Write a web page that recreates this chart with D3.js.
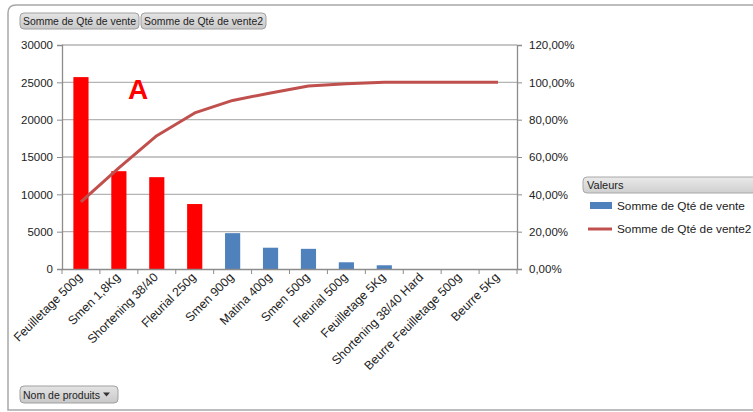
<!DOCTYPE html>
<html><head><meta charset="utf-8">
<script src="https://cdn.jsdelivr.net/npm/d3@7/dist/d3.min.js"></script>
<style>
html,body{margin:0;padding:0;background:#fff;}
svg{display:block;font-family:"Liberation Sans",Arial,sans-serif;}
</style></head><body>
<svg id="c" width="753" height="412"></svg>
<script>
const categories = ["Feuilletage 500g","Smen 1,8Kg","Shortening 38/40","Fleurial 250g","Smen 900g","Matina 400g","Smen 500g","Fleurial 500g","Feuilletage 5Kg","Shortening 38/40 Hard","Beurre Feuilletage 500g","Beurre 5Kg"];
const qteVente = [25700,13100,12300,8700,4800,2850,2700,900,500,0,0,0];
const cumulPct = [35.9,54.2,71.4,83.6,90.3,94.3,98.0,99.3,100,100,100,100];
const highlighted = [true,true,true,true,false,false,false,false,false,false,false,false];
const leftTicks = [0,5000,10000,15000,20000,25000,30000];
const rightTicks = [0,20,40,60,80,100,120];
const seriesNames = ["Somme de Qté de vente","Somme de Qté de vente2"];

const svg = d3.select("#c");
const L=62, R=517, T=45, B=269;

// outer frame
svg.append("path").attr("d","M 753 5 L 16 5 Q 8 5 8 13 L 8 410 L 753 410")
  .attr("fill","none").attr("stroke","#a8a8a8").attr("stroke-width",1.5);

const defs = svg.append("defs");
const g1 = defs.append("linearGradient").attr("id","btn").attr("x1",0).attr("y1",0).attr("x2",0).attr("y2",1);
g1.append("stop").attr("offset","0").attr("stop-color","#e4e4e4");
g1.append("stop").attr("offset","1").attr("stop-color","#c8c8c8");

function button(x,y,w,h,text,tw,arrow){
  svg.append("rect").attr("x",x).attr("y",y).attr("width",w).attr("height",h).attr("rx",4)
    .attr("fill","url(#btn)").attr("stroke","#a0a0a0");
  svg.append("text").attr("x",x+3).attr("y",y+h/2+4).attr("font-size",10.5).attr("fill","#222")
    .attr("textLength",tw).attr("lengthAdjust","spacingAndGlyphs").text(text);
  if(arrow){
    svg.append("path").attr("d",`M ${x+w-15} ${y+h/2-2} l 7 0 l -3.5 4 z`).attr("fill","#333");
  }
}
button(20,13,119,16,seriesNames[0],113);
button(141,13,125,16,seriesNames[1],119);
button(20,386,98,17,"Nom de produits",77,true);

const x = d3.scaleBand().domain(categories).range([L,R]).paddingInner(0.6).paddingOuter(0.3);
const xb = d3.scaleBand().domain(categories).range([L,R]);
const y = d3.scaleLinear().domain([0,30000]).range([B,T]);
const y2 = d3.scaleLinear().domain([0,120]).range([B,T]);

// gridlines
svg.append("g").selectAll("line").data(leftTicks.slice(1)).join("line")
  .attr("x1",L).attr("x2",R).attr("y1",d=>y(d)).attr("y2",d=>y(d))
  .attr("stroke","#b4b4b4").attr("stroke-width",1.3);

// bars
svg.append("g").selectAll("rect").data(categories).join("rect")
  .attr("x",d=>x(d)).attr("width",x.bandwidth())
  .attr("y",(d,i)=>y(qteVente[i])).attr("height",(d,i)=>B-y(qteVente[i]))
  .attr("fill",(d,i)=>highlighted[i]?"#ff0000":"#4f81bd");

// axes
const fmtL = d3.format("d");
const yAxis = svg.append("g").attr("transform",`translate(${L},0)`)
  .call(d3.axisLeft(y).tickValues(leftTicks).tickSize(5).tickFormat(fmtL));
const y2Axis = svg.append("g").attr("transform",`translate(${R},0)`)
  .call(d3.axisRight(y2).tickValues(rightTicks).tickSize(5).tickFormat(d=>d.toFixed(2).replace(".",",")+"%"));
const xAxis = svg.append("g").attr("transform",`translate(0,${B})`)
  .call(d3.axisBottom(xb).tickSize(0).tickFormat(""));
[yAxis,y2Axis,xAxis].forEach(a=>{
  a.select(".domain").attr("stroke","#8c8c8c").attr("stroke-width",1.3);
  a.selectAll(".tick line").attr("stroke","#8c8c8c");
  a.selectAll("text").attr("font-size",11.5).attr("fill","#222").attr("font-family","Liberation Sans, Arial, sans-serif");
});
yAxis.selectAll("text").attr("x",-9);
y2Axis.selectAll("text").attr("x",12);
// x tick marks at band boundaries
svg.append("g").selectAll("line").data(categories.map(c=>xb(c)).concat([R]).slice(1)).join("line")
  .attr("x1",d=>d).attr("x2",d=>d).attr("y1",B).attr("y2",B+5).attr("stroke","#8c8c8c");
svg.append("line").attr("x1",L).attr("x2",L).attr("y1",B).attr("y2",B+5).attr("stroke","#8c8c8c");

// x labels
svg.append("g").selectAll("text").data(categories).join("text")
  .attr("transform",d=>`translate(${xb(d)+xb.bandwidth()/2+2},${B+9}) rotate(-45)`)
  .attr("text-anchor","end").attr("font-size",12.3).attr("fill","#222").text(d=>d);

// line
const line = d3.line().x((d,i)=>xb(categories[i])+xb.bandwidth()/2).y(d=>y2(d));
svg.append("path").datum(cumulPct).attr("d",line).attr("fill","none")
  .attr("stroke","#c0504d").attr("stroke-width",3).attr("stroke-linejoin","round");

// annotation
svg.append("text").attr("x",128).attr("y",99).attr("font-size",28).attr("font-weight","bold")
  .attr("fill","#ff0000").text("A");

// legend
const lg = defs.append("linearGradient").attr("id","lgh").attr("x1",0).attr("y1",0).attr("x2",0).attr("y2",1);
lg.append("stop").attr("offset","0").attr("stop-color","#eaeaea");
lg.append("stop").attr("offset","1").attr("stop-color","#cfcfcf");
svg.append("rect").attr("x",583).attr("y",177).attr("width",180).attr("height",16).attr("rx",4)
  .attr("fill","url(#lgh)").attr("stroke","#a8a8a8");
svg.append("text").attr("x",587).attr("y",189).attr("font-size",11).attr("fill","#222").text("Valeurs");
svg.append("rect").attr("x",590).attr("y",202).attr("width",22).attr("height",7).attr("fill","#4f81bd");
svg.append("text").attr("x",617).attr("y",210).attr("font-size",11.8).attr("fill","#222").text(seriesNames[0]);
svg.append("line").attr("x1",588).attr("x2",612).attr("y1",229).attr("y2",229).attr("stroke","#c0504d").attr("stroke-width",3);
svg.append("text").attr("x",617).attr("y",233).attr("font-size",11.8).attr("fill","#222").text(seriesNames[1]);
</script>
</body></html>
